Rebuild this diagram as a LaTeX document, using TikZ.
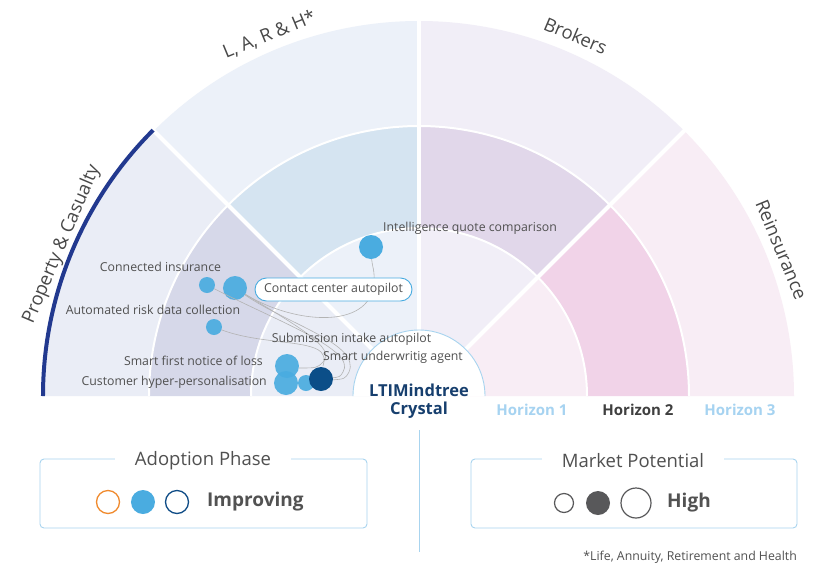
\documentclass[tikz,border=0pt]{standalone}
\usepackage{fontspec}
\setmainfont{Open Sans}
\definecolor{pcL}{HTML}{EAEDF6}
\definecolor{pcM}{HTML}{D6D8E9}
\definecolor{laL}{HTML}{ECF1F9}
\definecolor{laM}{HTML}{D5E4F1}
\definecolor{brL}{HTML}{F1EEF7}
\definecolor{brM}{HTML}{E1D7EA}
\definecolor{reL}{HTML}{F8EDF5}
\definecolor{reM}{HTML}{F1D3E8}
\definecolor{navyarc}{HTML}{22398F}
\definecolor{bubblue}{HTML}{4AACE0}
\definecolor{bubdark}{HTML}{0B4E88}
\definecolor{lightline}{HTML}{A8D4EF}
\definecolor{labgray}{HTML}{505050}
\definecolor{leader}{HTML}{B3B3B3}
\definecolor{crystal}{HTML}{173F6E}
\definecolor{hzblue}{HTML}{A6D3F1}
\definecolor{hzdark}{HTML}{3F3F3F}
\definecolor{ringorange}{HTML}{F08A2E}
\definecolor{ringnavy}{HTML}{0F4C86}
\definecolor{mpgray}{HTML}{58585A}
\newcommand{\annsec}[5]{\fill[#5] (#1:#3) arc[start angle=#1,end angle=#2,radius=#3] -- (#2:#4) arc[start angle=#2,end angle=#1,radius=#4] -- cycle;}
\begin{document}
\begin{tikzpicture}[x=1pt,y=1pt,
  lab/.style={font=\fontsize{12.3}{14}\selectfont, text=labgray, inner sep=0pt, text height=9pt, text depth=3pt},
  seclab/.style={font=\fontsize{18.5}{22}\selectfont, text=labgray!90!black, inner sep=0pt},
  bub/.style={circle, fill=bubblue, draw=none, inner sep=0pt, fill opacity=0.92},
  leadline/.style={draw=leader, line width=0.6pt},
  hz/.style={font=\bfseries\fontsize{15}{18}\selectfont, inner sep=0pt},
  legbox/.style={draw=lightline, line width=0.9pt, rounded corners=4pt},
  legtitle/.style={fill=white, font=\fontsize{18.5}{22}\selectfont, text=labgray, inner xsep=20pt, inner ysep=2pt},
  legword/.style={font=\bfseries\fontsize{19}{22}\selectfont, text=hzdark!90!white, inner sep=0pt}
]
\useasboundingbox (-419,-170) rectangle (402,396);
\fill[white] (-419,-170) rectangle (402,396);
% sectors
\annsec{135}{180}{0}{168}{pcL}
\annsec{135}{180}{168}{270}{pcM}
\annsec{135}{180}{270}{375}{pcL}
\annsec{90}{135}{0}{168}{laL}
\annsec{90}{135}{168}{270}{laM}
\annsec{90}{135}{270}{375}{laL}
\annsec{45}{90}{0}{168}{brL}
\annsec{45}{90}{168}{270}{brM}
\annsec{45}{90}{270}{375}{brL}
\annsec{0}{45}{0}{168}{reL}
\annsec{0}{45}{168}{270}{reM}
\annsec{0}{45}{270}{375}{reL}
% separators
\foreach \a in {45,90,135} \draw[white, line width=4pt] (\a:50) -- (\a:380);
\draw[white, line width=2pt] (168,0) arc[start angle=0,end angle=180,radius=168];
\draw[white, line width=2pt] (270,0) arc[start angle=0,end angle=180,radius=270];
% navy arc
\draw[navyarc, line width=4pt] (180:376) arc[start angle=180,end angle=135,radius=376];
% centre circle
\fill[white] (66,0) arc[start angle=0,end angle=180,radius=66] -- cycle;
\draw[lightline, line width=0.9pt] (66,0) arc[start angle=0,end angle=180,radius=66];
\node[font=\bfseries\fontsize{16.5}{19}\selectfont, text=crystal, inner sep=0pt] (crys1) at (0,6) {LTIMindtree};
\node[font=\bfseries\fontsize{16.5}{19}\selectfont, text=crystal, inner sep=0pt] (crys2) at (0,-14) {Crystal};
% sector labels
\node[seclab, rotate=67] (pc) at (157:388) {Property \& Casualty};
\node[seclab, rotate=22.5] (larh) at (112.5:391) {L, A, R \& H*};
\node[seclab, rotate=-23] (brok) at (66.5:393) {Brokers};
\node[seclab, rotate=-67.5] (reins) at (22:391) {Reinsurance};
% horizon labels
\node[hz, text=hzblue] (h1) at (113,-14) {Horizon 1};
\node[hz, text=hzdark] (h2) at (219,-14) {Horizon 2};
\node[hz, text=hzblue] (h3) at (321,-14) {Horizon 3};
% upper bubbles
\node[bub, minimum size=24pt, fill opacity=1] (iqc) at (-48,149) {};
\node[bub, minimum size=16pt] (ci) at (-212,111) {};
\node[bub, minimum size=24pt] (cca) at (-184,108) {};
\node[bub, minimum size=16pt] (ar) at (-205,69) {};
% leader lines
\draw[leadline] (cca) .. controls (-125,72) and (-50,66) .. (-45,112) .. controls (-44,126) and (-47,130) .. (iqc);
\draw[leadline] (ci) .. controls (-140,74) and (-62,46) .. (-76,24) .. controls (-79,19) .. (-88,18);
\draw[leadline] (cca) .. controls (-132,72) and (-58,52) .. (-70,24) .. controls (-74,17) .. (-88,16);
\draw[leadline] (cca) .. controls (-122,70) and (-82,48) .. (-96,34) .. controls (-102,28) .. (-120,28);
\draw[leadline] (ar) .. controls (-160,52) and (-110,56) .. (-98,44) .. controls (-94,38) .. (-96,30);
% lower bubbles
\node[bub, minimum size=24pt] (sfn) at (-132,30) {};
\node[bub, minimum size=24pt] (chp) at (-133,13) {};
\node[bub, minimum size=16pt] (sia) at (-113,13) {};
\node[bub, minimum size=24pt, fill=bubdark, fill opacity=1] (sua) at (-98,17) {};
% labels
\node[lab, anchor=west] (iqcl) at (-36,168) {Intelligence quote comparison};
\node[lab] (cil) at (-258.5,128) {Connected insurance};
\node[lab, fill=white, draw=bubblue, line width=0.9pt, rounded corners=11.5pt, minimum width=157pt, minimum height=23pt] (ccal) at (-85.5,106.5) {Contact center autopilot};
\node[lab] (arl) at (-266,85) {Automated risk data collection};
\node[lab] (sial) at (-67.5,57) {Submission intake autopilot};
\node[lab] (sual) at (-26,39) {Smart underwritig agent};
\node[lab, anchor=east] (sfnl) at (-156,34) {Smart first notice of loss};
\node[lab, anchor=east] (chpl) at (-152,14) {Customer hyper-personalisation};
% divider
\draw[lightline, line width=0.9pt] (0,-34) -- (0,-156);
% adoption phase legend
\draw[legbox] (-379,-63) rectangle (-52,-132);
\node[legtitle] (adt) at (-216,-65) {Adoption Phase};
\node[circle, draw=ringorange, line width=1.3pt, minimum size=23pt, inner sep=0pt] (a1) at (-311,-106) {};
\node[circle, fill=bubblue, minimum size=24pt, inner sep=0pt] (a2) at (-276,-106) {};
\node[circle, draw=ringnavy, line width=1.3pt, minimum size=23pt, inner sep=0pt] (a3) at (-242,-106) {};
\node[legword, anchor=west] (impr) at (-212,-106) {Improving};
% market potential legend
\draw[legbox] (52,-63) rectangle (378,-132);
\node[legtitle] (mpt) at (214,-65) {Market Potential};
\node[circle, draw=mpgray, line width=1.2pt, minimum size=19pt, inner sep=0pt] (m1) at (145,-107) {};
\node[circle, fill=mpgray, minimum size=24pt, inner sep=0pt] (m2) at (179,-107) {};
\node[circle, draw=mpgray, line width=1.2pt, minimum size=30pt, inner sep=0pt] (m3) at (217,-107) {};
\node[legword, anchor=west] (high) at (248,-107) {High};
% footnote
\node[font=\fontsize{12.3}{14}\selectfont, text=labgray, anchor=east, inner sep=0pt] (foot) at (378,-161) {*Life, Annuity, Retirement and Health};
\end{tikzpicture}
\end{document}
